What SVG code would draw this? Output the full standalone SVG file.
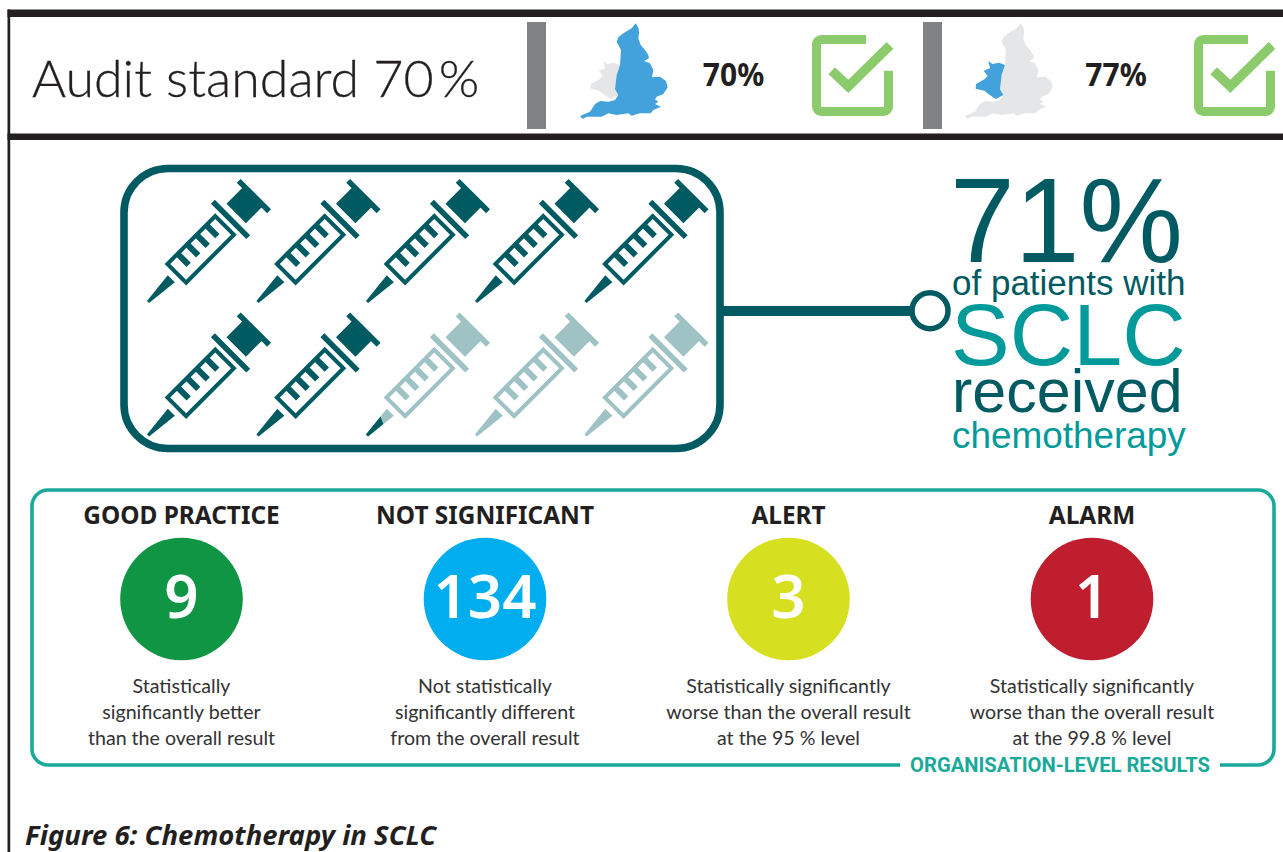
<svg xmlns="http://www.w3.org/2000/svg" width="1283" height="852" viewBox="0 0 1283 852">
<style>
.body{font-family:"Lato","Noto Sans",sans-serif;font-weight:400;font-size:19.600px;fill:#333233;text-anchor:middle}
.head{font-family:"Noto Sans","Open Sans",sans-serif;font-weight:700;font-size:24.400px;fill:#231f20;text-anchor:middle}
.num{font-family:"Noto Sans","Open Sans",sans-serif;font-weight:600;font-size:60px;fill:#fff;text-anchor:middle}
.pct{font-family:"Noto Sans","Open Sans",sans-serif;font-weight:700;font-size:33px;fill:#231f20;text-anchor:middle}
.big{font-family:"Liberation Sans",Arial,sans-serif}
.dark{fill:#005a62}.teal{fill:#009a9a}
.sq{fill:none;stroke:#8ccb6b;stroke-width:9}
.chk{fill:none;stroke:#8ccb6b;stroke-width:9.500}
.on{color:#005a62}.off{color:#9fc2c4}
.blue{fill:#43a2dc}.grey{fill:#e5e6e8}
</style>
<defs>
<g id="syr">
<path fill="currentColor" d="M0-1.500 33-5V5L0 1.500Z"/>
<rect x="40.700" y="-13.200" width="67.600" height="26.400" fill="none" stroke="currentColor" stroke-width="4"/>
<path fill="currentColor" d="M52-12h6V2.500h-6ZM65.500-12h6V2.500h-6ZM79-12h6V2.500h-6ZM92.500-12h6V2.500h-6ZM114-25h5.500V25h-5.500ZM125-14h25V13.500h-25ZM147-21.500h5.500V21.500h-5.500Z"/>
</g>
<path id="eng" d="M347 70 356 85 357 100 355 115 362 135 375 150 385 165 387 175 372 183 390 190 400 210 396 232 420 230 438 243 443 262 430 282 410 290 405 298 415 305 405 312 423 320 400 330 392 340 360 340 335 347 325 340 290 345 265 340 245 350 200 350 188 357 180 348 210 335 225 312 240 303 265 305 285 300 295 285 285 268 290 225 300 195 303 150 290 125 295 112 310 100 335 85Z"/>
<path id="wal" d="M250 183 262 192 282 188 300 195 290 225 285 268 295 285 272 297 250 282 238 272 212 266 213 252 238 238 248 228 236 212 255 205Z"/>
</defs>

<g id="frame" fill="#231f20">
<rect x="7.500" y="9.500" width="1275.500" height="7.500"/>
<rect x="7.500" y="133.500" width="1275.500" height="6.500"/>
<rect x="7.500" y="9.500" width="2.700" height="842.500"/>
</g>

<g id="audit-standard">
<text x="32" y="97" font-family="Lato,'Noto Sans',sans-serif" font-weight="300" font-size="52" fill="#231f20" stroke="#231f20" stroke-width=".3">Audit standard 70 <tspan dx="-9">%</tspan></text>
</g>

<g id="england-result">
<rect x="527" y="22" width="19" height="107" fill="#808285"/>
<g transform="translate(520,0) scale(.33333)">
<use href="#wal" class="grey"/>
<use href="#eng" class="blue"/>
</g>
<text class="pct" transform="translate(733.500,86) scale(.91,1)">70%</text>
<path class="sq" d="M866 39.500H821.500a5 5 0 0 0-5 5V106.500a5 5 0 0 0 5 5H883.500a5 5 0 0 0 5-5V70.700"/>
<path class="chk" d="M831.700 70.700 848.300 86.300 890 45.300"/>
</g>

<g id="wales-result">
<rect x="923" y="22" width="19" height="107" fill="#808285"/>
<g transform="translate(905,0) scale(.33333)">
<use href="#eng" class="grey"/>
<use href="#wal" class="blue"/>
</g>
<text class="pct" transform="translate(1116,86) scale(.91,1)">77%</text>
<path class="sq" d="M1248 39.500H1203.500a5 5 0 0 0-5 5V106.500a5 5 0 0 0 5 5H1265.500a5 5 0 0 0 5-5V70.700"/>
<path class="chk" d="M1213.700 70.700 1230.300 86.300 1272 45.300"/>
</g>

<g id="syringe-box">
<rect x="124" y="168.500" width="596" height="280" rx="44" fill="none" stroke="#005a62" stroke-width="7.600"/>
<g class="on">
<use href="#syr" transform="translate(148,302) rotate(-45)"/>
<use href="#syr" transform="translate(257.500,302) rotate(-45)"/>
<use href="#syr" transform="translate(367,302) rotate(-45)"/>
<use href="#syr" transform="translate(476,302) rotate(-45)"/>
<use href="#syr" transform="translate(585.500,302) rotate(-45)"/>
<use href="#syr" transform="translate(148,435.500) rotate(-45)"/>
<use href="#syr" transform="translate(257.500,435.500) rotate(-45)"/>
</g>
<g class="off">
<use href="#syr" transform="translate(367,435.500) rotate(-45)"/>
<use href="#syr" transform="translate(476,435.500) rotate(-45)"/>
<use href="#syr" transform="translate(585.500,435.500) rotate(-45)"/>
</g>
<path class="dark" transform="translate(367,435.500) rotate(-45)" d="M0-1.500 23-3.900 19.600 3.500 0 1.500Z"/>
</g>

<g id="connectors">
<path d="M722 311H912" fill="none" stroke="#005a62" stroke-width="10"/>
<circle cx="930" cy="310.700" r="18" fill="#fff" stroke="#005a62" stroke-width="5.500"/>
</g>

<g id="headline" class="big">
<text class="dark" transform="translate(950,262) scale(.97,1)" font-size="120">71%</text>
<text class="dark" x="952" y="295" font-size="35">of patients with</text>
<text class="teal" x="951" y="365" font-size="88">SCLC</text>
<text class="dark" x="952" y="412" font-size="61">received</text>
<text class="teal" x="952" y="448" font-size="36.900">chemotherapy</text>
</g>

<g id="results-panel">
<path d="M900 765H48a16 16 0 0 1-16-16V506a16 16 0 0 1 16-16H1258a16 16 0 0 1 16 16V749a16 16 0 0 1-16 16H1220" fill="none" stroke="#1aa99a" stroke-width="3.600"/>
<text x="1060" y="771.500" font-family="Roboto,sans-serif" font-weight="700" font-size="20.200" fill="#1aa99a" text-anchor="middle">ORGANISATION-LEVEL RESULTS</text>
</g>

<g id="good-practice">
<text class="head" x="181.500" y="524">GOOD PRACTICE</text>
<circle cx="181.500" cy="599" r="61.300" fill="#109545"/>
<text class="num" x="181.500" y="618">9</text>
<text class="body" x="181.500" y="693">Statistically</text>
<text class="body" x="181.500" y="719">significantly better</text>
<text class="body" x="181.500" y="745">than the overall result</text>
</g>
<g id="not-significant">
<text class="head" x="485" y="524">NOT SIGNIFICANT</text>
<circle cx="485" cy="599" r="61.300" fill="#00aeef"/>
<text class="num" x="485" y="618">134</text>
<text class="body" x="485" y="693">Not statistically</text>
<text class="body" x="485" y="719">significantly different</text>
<text class="body" x="485" y="745">from the overall result</text>
</g>
<g id="alert">
<text class="head" x="788.500" y="524">ALERT</text>
<circle cx="788.500" cy="599" r="61.300" fill="#d7df21"/>
<text class="num" x="788.500" y="618">3</text>
<text class="body" x="788.500" y="693">Statistically significantly</text>
<text class="body" x="788.500" y="719">worse than the overall result</text>
<text class="body" x="788.500" y="745">at the 95 %  level</text>
</g>
<g id="alarm">
<text class="head" x="1092" y="524">ALARM</text>
<circle cx="1092" cy="599" r="61.300" fill="#be1e2d"/>
<text class="num" x="1092" y="618">1</text>
<text class="body" x="1092" y="693">Statistically significantly</text>
<text class="body" x="1092" y="719">worse than the overall result</text>
<text class="body" x="1092" y="745">at the 99.8 %  level</text>
</g>

<g id="caption">
<text x="25" y="845" font-family="'Noto Sans','Open Sans',sans-serif" font-weight="700" font-style="italic" font-size="27.500" fill="#231f20">Figure 6: Chemotherapy in SCLC</text>
</g>
</svg>
